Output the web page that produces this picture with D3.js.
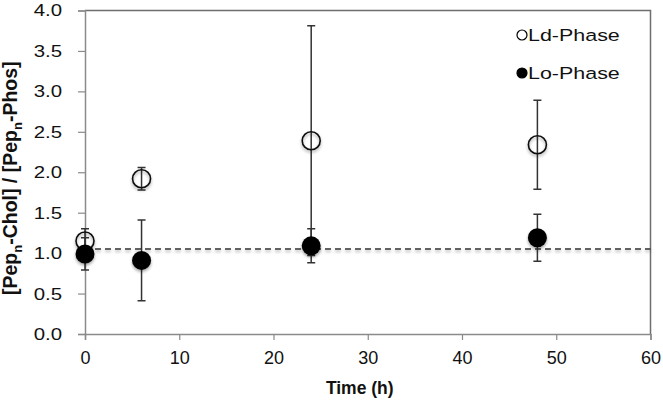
<!doctype html>
<html>
<head>
<meta charset="utf-8">
<script src="https://cdn.jsdelivr.net/npm/d3@7"></script>
<style>
  body { margin: 0; background: #fff; }
  svg { display: block; font-family: "Liberation Sans", Arial, Helvetica, sans-serif; }
</style>
</head>
<body>
<script>
// Data
const times = [0, 6, 24, 48];
const ldValues = [1.15, 1.92, 2.39, 2.34];
const ldErrors = [0.15, 0.14, 1.42, 0.55];
const loValues = [0.99, 0.91, 1.09, 1.19];
const loErrors = [0.2, 0.5, 0.21, 0.29];
const reference = 1.05;
const xTicks = [0, 10, 20, 30, 40, 50, 60];
const yTicks = [0, 0.5, 1, 1.5, 2, 2.5, 3, 3.5, 4];

// Chart dimensions
const width = 663;
const height = 402;
const marginTop = 10.5;
const marginRight = 12.5;
const marginBottom = 68;
const marginLeft = 85;
const stretch = 1.2; // the source text is drawn a bit wide

const x = d3.scaleLinear([0, 60], [marginLeft, width - marginRight]);
const y = d3.scaleLinear([0, 4], [height - marginBottom, marginTop]);

const svg = d3.select("body").append("svg")
    .attr("width", width)
    .attr("height", height)
    .attr("viewBox", [0, 0, width, height]);

// soft shadow under the markers and the dashed line
const shadow = svg.append("defs").append("filter")
    .attr("id", "shadow")
    .attr("filterUnits", "userSpaceOnUse")
    .attr("x", 0).attr("y", 0)
    .attr("width", width).attr("height", height);
shadow.append("feDropShadow")
    .attr("dx", 0).attr("dy", 2)
    .attr("stdDeviation", 1.8)
    .attr("flood-color", "#000")
    .attr("flood-opacity", 0.35);

// frame (top and right)
svg.append("path")
    .attr("fill", "none")
    .attr("stroke", "#6e6e6e")
    .attr("stroke-width", 1.5)
    .attr("d", `M${x(0)},${y(4)}H${x(60)}V${y(0)}`);

// y axis
svg.append("g")
    .attr("transform", `translate(${x(0)},0)`)
    .call(d3.axisLeft(y).tickValues(yTicks).tickFormat(d3.format(".1f")).tickSize(7))
    .call(g => g.select(".domain").attr("stroke", "#8a8a8a").attr("stroke-width", 1.5))
    .call(g => g.selectAll(".tick line").attr("stroke", "#8a8a8a").attr("stroke-width", 1.2))
    .call(g => g.selectAll(".tick text")
        .attr("font-size", 17).attr("fill", "#111").attr("font-family", null)
        .attr("x", -23 / stretch)
        .attr("transform", `scale(${stretch},1)`));

// x axis
svg.append("g")
    .attr("transform", `translate(0,${y(0)})`)
    .call(d3.axisBottom(x).tickValues(xTicks).tickSize(6).tickPadding(11))
    .call(g => g.select(".domain").attr("stroke", "#8a8a8a").attr("stroke-width", 1.5))
    .call(g => g.selectAll(".tick line").attr("stroke", "#8a8a8a").attr("stroke-width", 1.2))
    .call(g => g.selectAll(".tick text")
        .attr("font-size", 18).attr("fill", "#111").attr("font-family", null));

// axis titles
svg.append("text")
    .attr("x", (x(0) + x(60)) / 2 - 8)
    .attr("y", 394)
    .attr("text-anchor", "middle")
    .attr("font-size", 17.5)
    .attr("font-weight", "bold")
    .attr("fill", "#111")
    .text("Time (h)");

const yTitle = svg.append("text")
    .attr("transform", `translate(17,${(y(0) + y(4)) / 2 + 6}) rotate(-90)`)
    .attr("text-anchor", "middle")
    .attr("font-size", 19.5)
    .attr("font-weight", "bold")
    .attr("fill", "#111");
yTitle.append("tspan").text("[Pep");
yTitle.append("tspan").attr("font-size", 13).attr("dy", 5).text("n");
yTitle.append("tspan").attr("dy", -5).text("-Chol] / [Pep");
yTitle.append("tspan").attr("font-size", 13).attr("dy", 5).text("n");
yTitle.append("tspan").attr("dy", -5).text("-Phos]");

// dashed reference line
svg.append("g")
    .attr("filter", "url(#shadow)")
  .append("line")
    .attr("x1", x(0)).attr("x2", x(60))
    .attr("y1", y(reference)).attr("y2", y(reference))
    .attr("stroke", "#333")
    .attr("stroke-width", 1.5)
    .attr("stroke-dasharray", "6,4");

const ld = times.map((t, i) => ({t, v: ldValues[i], e: ldErrors[i]}));
const lo = times.map((t, i) => ({t, v: loValues[i], e: loErrors[i]}));

function errorBars(data) {
  const g = svg.append("g")
      .attr("stroke", "#333")
      .attr("stroke-width", 1.5)
      .attr("fill", "none");
  g.selectAll("path")
    .data(data)
    .join("path")
      .attr("d", d => {
        const cx = x(d.t), hi = y(d.v + d.e), lo = y(Math.max(0, d.v - d.e));
        return `M${cx - 4},${hi}H${cx + 4}M${cx},${hi}V${lo}M${cx - 4},${lo}H${cx + 4}`;
      });
}

errorBars(ld);
errorBars(lo);

// Ld-Phase markers (open)
svg.append("g")
    .attr("filter", "url(#shadow)")
  .selectAll("circle")
  .data(ld)
  .join("circle")
    .attr("cx", d => x(d.t))
    .attr("cy", d => y(d.v))
    .attr("r", 9)
    .attr("fill", "none")
    .attr("stroke", "#111")
    .attr("stroke-width", 1.6);

// Lo-Phase markers (filled)
svg.append("g")
    .attr("filter", "url(#shadow)")
  .selectAll("circle")
  .data(lo)
  .join("circle")
    .attr("cx", d => x(d.t))
    .attr("cy", d => y(d.v))
    .attr("r", 9.5)
    .attr("fill", "#000");

// legend
const legend = svg.append("g").attr("font-size", 16.5).attr("fill", "#111");
const items = [
  {label: "Ld-Phase", fill: "#fff", y: 35},
  {label: "Lo-Phase", fill: "#000", y: 73}
];
items.forEach(it => {
  legend.append("circle")
      .attr("cx", 522).attr("cy", it.y)
      .attr("r", 5)
      .attr("fill", it.fill)
      .attr("stroke", "#000")
      .attr("stroke-width", 1.2);
  legend.append("text")
      .attr("transform", `translate(528,${it.y}) scale(1.3,1)`)
      .attr("dy", "0.35em")
      .text(it.label);
});
</script>
</body>
</html>
